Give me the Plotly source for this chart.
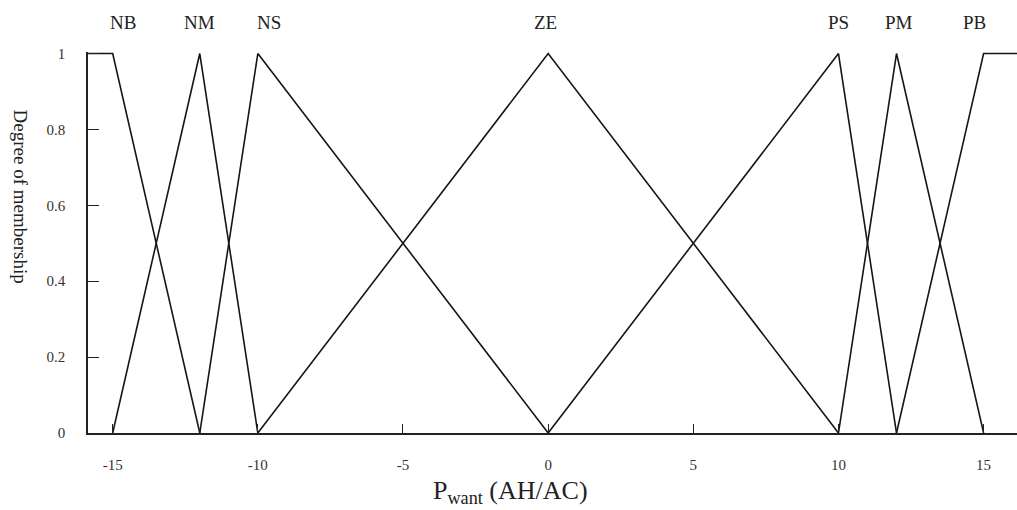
import plotly.graph_objects as go

# Membership function breakpoints (x) and degrees (y)
sets = ["NB", "NM", "NS", "ZE", "PS", "PM", "PB"]
nb_x = [-16, -15, -12]
nb_y = [1, 1, 0]
nm_x = [-15, -12, -10]
nm_y = [0, 1, 0]
ns_x = [-12, -10, 0]
ns_y = [0, 1, 0]
ze_x = [-10, 0, 10]
ze_y = [0, 1, 0]
ps_x = [0, 10, 12]
ps_y = [0, 1, 0]
pm_x = [10, 12, 15]
pm_y = [0, 1, 0]
pb_x = [12, 15, 17]
pb_y = [0, 1, 1]

# Where each set name sits along the x axis
label_x = [-14.65, -12.0, -9.6, -0.1, 10.0, 12.1, 14.7]

x_ticks = [-15, -10, -5, 0, 5, 10, 15]
x_tick_text = ["-15", "-10", "-5", "0", "5", "10", "15"]
y_ticks = [0, 0.2, 0.4, 0.6, 0.8, 1]
y_tick_text = ["0", "0.2", "0.4", "0.6", "0.8", "1"]

FONT = "Liberation Serif"

fig = go.Figure()
for xs, ys in [(nb_x, nb_y), (nm_x, nm_y), (ns_x, ns_y), (ze_x, ze_y),
               (ps_x, ps_y), (pm_x, pm_y), (pb_x, pb_y)]:
    fig.add_trace(go.Scatter(x=xs, y=ys, mode="lines",
                             line=dict(color="#151515", width=1.6),
                             showlegend=False, hoverinfo="skip"))

for name, lx in zip(sets, label_x):
    fig.add_annotation(x=lx, y=1.0, xref="x", yref="y", yshift=31,
                       text=name, showarrow=False,
                       font=dict(family=FONT, size=19, color="#222"))

# Axis titles
fig.add_annotation(x=0.455, y=-0.155, xref="paper", yref="paper",
                   text="P<sub>want</sub> (AH/AC)", showarrow=False,
                   xanchor="center", yanchor="middle",
                   font=dict(family=FONT, size=26, color="#222"))
fig.add_annotation(x=-0.073, y=0.62, xref="paper", yref="paper",
                   text="Degree of membership", showarrow=False,
                   textangle=90, xanchor="center", yanchor="middle",
                   font=dict(family=FONT, size=19, color="#222"))

fig.update_layout(
    width=1017, height=510,
    margin=dict(l=88, r=0, t=52, b=77),
    paper_bgcolor="white", plot_bgcolor="white",
    font=dict(family=FONT, size=15, color="#333"),
)
fig.update_xaxes(range=[-15.85, 16.15], tickvals=x_ticks, ticktext=x_tick_text,
                 ticks="inside", ticklen=9, tickwidth=1.2, tickcolor="#222",
                 showline=True, linecolor="#222", linewidth=1.6,
                 showgrid=False, zeroline=False, ticklabelstandoff=17,
                 tickfont=dict(family=FONT, size=15, color="#333"))
fig.update_yaxes(range=[0, 1.004], tickvals=y_ticks, ticktext=y_tick_text,
                 ticks="inside", ticklen=11, tickwidth=1.2, tickcolor="#222",
                 showline=True, linecolor="#222", linewidth=1.6,
                 showgrid=False, zeroline=False, ticklabelstandoff=18,
                 tickfont=dict(family=FONT, size=15, color="#333"))

fig.write_html("out.html")
